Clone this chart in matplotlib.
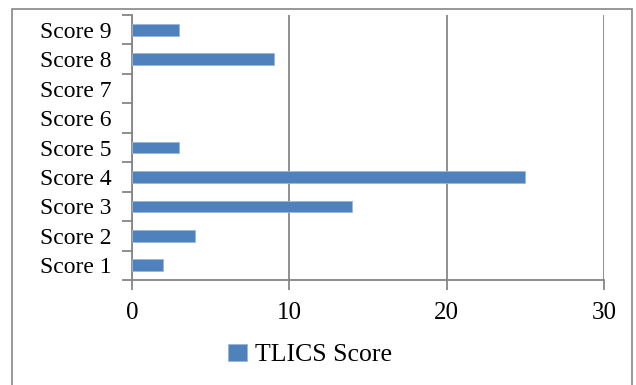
import matplotlib.pyplot as plt
import numpy as np
from matplotlib.patches import Rectangle

categories = ['Score 1', 'Score 2', 'Score 3', 'Score 4', 'Score 5',
              'Score 6', 'Score 7', 'Score 8', 'Score 9']
values = [2, 4, 14, 25, 3, 0, 0, 9, 3]
x_ticks = [0, 10, 20, 30]
series_name = 'TLICS Score'

plt.rcParams['font.family'] = ['Liberation Serif', 'DejaVu Serif']

W, H = 636, 385
fig = plt.figure(figsize=(W / 100, H / 100), dpi=100)
# plot area in pixels: x 132..604, y 15..280
ax = fig.add_axes([132 / W, 1 - 280 / H, (604 - 132) / W, (280 - 15) / H])

grey = '#868686'
pos = np.arange(len(categories))
bars = ax.barh(pos, values, height=0.4, color='#4F81BD', edgecolor='#9BB7D9',
               linewidth=0.6, label=series_name, zorder=3)
for b, v in zip(bars, values):
    if v == 0:
        b.set_linewidth(0)

ax.set_xlim(0, 30)
ax.set_ylim(-0.5, len(categories) - 0.5)
ax.set_xticks(x_ticks)
ax.set_yticks(pos)
ax.set_yticklabels(categories)
ax.set_yticks(np.arange(-0.5, len(categories), 1.0), minor=True)

ax.tick_params(axis='y', which='major', length=0, pad=15, labelsize=17)
ax.tick_params(axis='y', which='minor', length=7, width=1.3, color=grey)
ax.tick_params(axis='x', length=7, width=1.3, color=grey, pad=9, labelsize=18)

ax.grid(axis='x', color=grey, linewidth=1.3, zorder=0)
for s in ['top', 'right']:
    ax.spines[s].set_visible(False)
for s in ['left', 'bottom']:
    ax.spines[s].set_color(grey)
    ax.spines[s].set_linewidth(1.3)

fig.legend(loc='center', bbox_to_anchor=(310 / W, 1 - 355 / H), frameon=False,
           fontsize=18.5, handlelength=0.75, handleheight=0.7, handletextpad=0.3)

# outer chart border
fig.patches.append(Rectangle((11.5 / W, -0.05), (632 - 11.5) / W, 1.05 - 8.5 / H,
                             transform=fig.transFigure, fill=False,
                             edgecolor=grey, linewidth=1.2))

fig.savefig('out.png', dpi=100)
